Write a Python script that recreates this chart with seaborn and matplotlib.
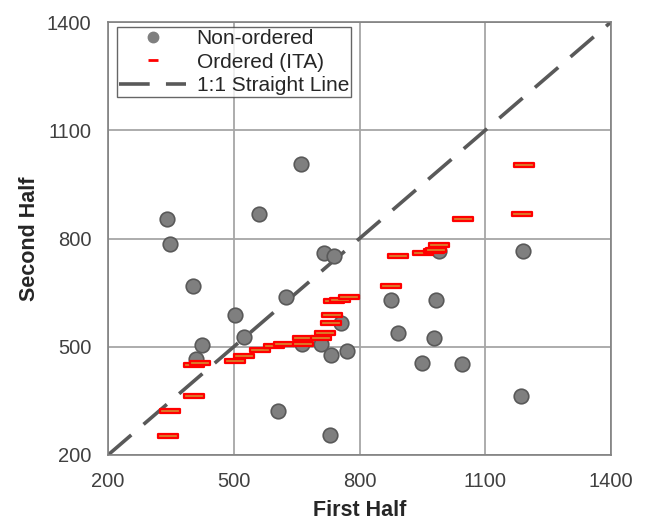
import matplotlib
matplotlib.use("Agg")
import matplotlib.pyplot as plt
import seaborn as sns
import pandas as pd
import numpy as np
from matplotlib.path import Path
from matplotlib.lines import Line2D

# Non-ordered points (First Half, Second Half)
non_x = [341, 347, 661, 560, 403, 502, 625, 524, 425, 411, 715, 740, 755, 663,
         709, 733, 770, 605, 730, 875, 983, 893, 977, 950, 1044, 1185, 1190, 990]
non_y = [854, 785, 1006, 868, 668, 588, 637, 526, 504, 465, 761, 752, 567, 508,
         508, 476, 489, 322, 255, 630, 630, 539, 525, 456, 451, 364, 766, 766]

# Ordered (ITA) points
ord_x = [344, 348, 405, 405, 420, 504, 524, 562, 596, 620, 665, 665, 709, 717,
         733, 735, 738, 754, 774, 875, 893, 951, 977, 983, 990, 1046, 1187, 1193]
ord_y = [253, 321, 363, 450, 454, 460, 475, 490, 503, 507, 507, 523, 524, 537,
         566, 587, 626, 630, 637, 668, 752, 759, 765, 768, 782, 853, 868, 1004]

line_ends = [200, 1400]
ticks = [200, 500, 800, 1100, 1400]

sns.set_style("white")
plt.rcParams['font.family'] = ['Liberation Sans', 'DejaVu Sans']

fig = plt.figure(figsize=(6.46, 5.24), dpi=100)
ax = fig.add_axes([108/646, 1-455/524, (611-108)/646, (455-22)/524])

df_non = pd.DataFrame({"x": non_x, "y": non_y})
df_ord = pd.DataFrame({"x": ord_x, "y": ord_y})
df_line = pd.DataFrame({"x": line_ends, "y": line_ends})

ax.grid(True, color="#a6a6a6", linewidth=1.3, zorder=0)
ax.set_axisbelow(True)

sns.lineplot(data=df_line, x="x", y="y", ax=ax, color="#595959", linewidth=2.6,
             zorder=2, legend=False)
ax.lines[-1].set_dashes([8.5, 4.5])

sns.scatterplot(data=df_non, x="x", y="y", ax=ax, s=110, color="#7f7f7f",
                edgecolor="#595959", linewidth=1.2, zorder=3, legend=False)

bar = Path([(-1, -0.26), (1, -0.26), (1, 0.26), (-1, 0.26), (-1, -0.26)],
           [Path.MOVETO, Path.LINETO, Path.LINETO, Path.LINETO, Path.CLOSEPOLY])
sns.scatterplot(data=df_ord, x="x", y="y", ax=ax, marker=bar, s=190,
                color="#d9822b", edgecolor="#ff0000", linewidth=1.6, zorder=4,
                legend=False)

ax.set_xlim(200, 1400)
ax.set_ylim(200, 1400)
ax.set_xticks(ticks)
ax.set_yticks(ticks)
ax.tick_params(axis="both", which="major", direction="out", length=5, width=1,
               color="#808080", labelsize=14.5, labelcolor="#404040", pad=7)
for s in ax.spines.values():
    s.set_color("#808080")
    s.set_linewidth(1.2)

ax.set_xlabel("First Half", fontsize=15.5, fontweight="bold", color="#262626", labelpad=7)
ax.set_ylabel("Second Half", fontsize=15.5, fontweight="bold", color="#262626", labelpad=5)

handles = [
    Line2D([], [], linestyle="none", marker="o", markersize=7.5, color="#7f7f7f",
           markeredgecolor="#7f7f7f"),
    Line2D([], [], linestyle="none", marker="_", markersize=7.5, color="#ff0000",
           markeredgewidth=2),
    Line2D([], [], color="#595959", linewidth=2.6, dashes=[8.5, 4.5]),
]
leg = ax.legend(handles, ["Non-ordered", "Ordered (ITA)", "1:1 Straight Line"],
                loc="upper left", bbox_to_anchor=(9/503, 1-5/433),
                fontsize=15, frameon=True, fancybox=False,
                edgecolor="#404040", handlelength=3.2, handletextpad=0.5,
                labelspacing=0.2, borderaxespad=0.0, borderpad=0.12)
leg.get_frame().set_linewidth(1.0)
for t in leg.get_texts():
    t.set_color("#262626")

fig.savefig("out.png", dpi=100)
